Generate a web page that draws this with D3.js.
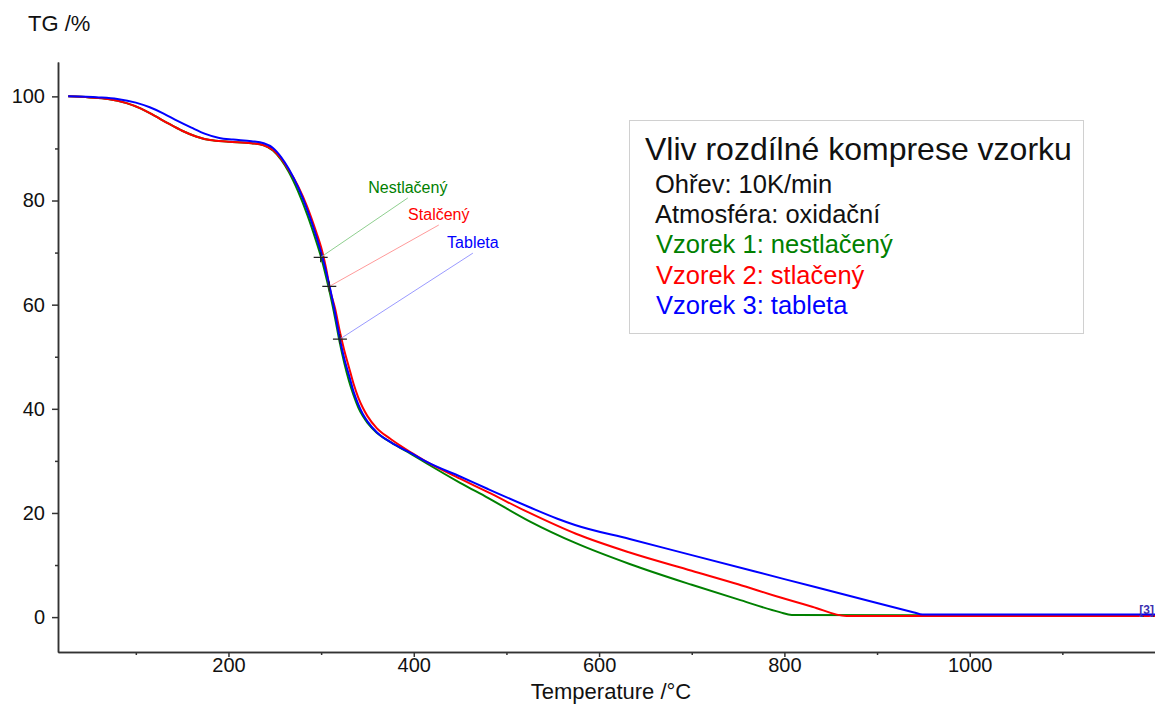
<!DOCTYPE html>
<html>
<head>
<meta charset="utf-8">
<script src="https://cdn.jsdelivr.net/npm/d3@7"></script>
<style>
    body { margin: 0; background: #fff; }
    svg { font-family: Arial, "Liberation Sans", sans-serif; }
    .axis path, .axis line { stroke: #333; stroke-width: 1.5; }
    .axis text { font-size: 20px; fill: #111; }
    .curve { fill: none; stroke-width: 2; }
</style>
</head>
<body>
<script>
//series values (temperature in deg C, mass in %)
var nestlacenyTemp = [27, 50, 70, 90, 105, 120, 135, 150, 165, 180, 200, 225, 238, 248, 257, 265, 275, 285, 295, 300, 305, 310, 315, 320, 325, 330, 335, 340, 345, 350, 360, 375, 400, 414, 450, 480, 525, 575, 633, 700, 750, 795, 808, 1200];
var nestlacenyMass = [100, 99.8, 99.5, 98.7, 97.7, 96.3, 94.8, 93.4, 92.3, 91.6, 91.3, 91.0, 90.6, 89.6, 87.8, 85.5, 81.8, 77.3, 72.0, 69.1, 65.6, 61.8, 57.5, 52.8, 48.8, 45.4, 42.6, 40.3, 38.6, 37.3, 35.4, 33.6, 31.0, 29.5, 25.8, 22.9, 18.4, 14.2, 10.2, 6.2, 3.4, 0.96, 0.4, 0.3];

var stlacenyTemp = [27, 50, 70, 90, 105, 120, 135, 150, 165, 180, 200, 225, 238, 248, 257, 265, 275, 285, 295, 300, 305, 310, 315, 320, 325, 330, 335, 340, 345, 350, 360, 375, 400, 414, 450, 480, 525, 575, 633, 700, 750, 795, 830, 867, 1200];
var stlacenyMass = [100, 99.8, 99.5, 98.7, 97.7, 96.3, 94.8, 93.4, 92.3, 91.6, 91.3, 91.0, 90.6, 89.7, 88.0, 85.9, 82.8, 78.8, 73.8, 71.0, 67.3, 62.6, 59.3, 55.0, 51.2, 48.0, 44.8, 42.2, 40.2, 38.6, 36.3, 34.2, 31.3, 29.8, 26.6, 24.0, 20.0, 16.0, 12.4, 8.9, 6.3, 3.8, 2.0, 0.2, 0.2];

var tabletaTemp = [27, 60, 80, 100, 115, 130, 145, 160, 175, 190, 205, 225, 238, 248, 257, 265, 275, 285, 295, 300, 305, 310, 315, 320, 325, 330, 335, 340, 345, 350, 360, 375, 400, 414, 450, 480, 525, 555, 574, 633, 700, 800, 900, 940, 949, 1200];
var tabletaMass = [100, 99.8, 99.5, 98.8, 97.9, 96.7, 95.3, 94.0, 92.8, 92.0, 91.7, 91.4, 91.0, 90.1, 88.3, 86.1, 82.6, 78.2, 73.0, 70.0, 66.6, 62.8, 58.4, 53.6, 49.6, 46.5, 43.3, 40.9, 39.0, 37.6, 35.5, 33.6, 31.2, 29.8, 27.0, 24.6, 21.1, 18.9, 17.7, 15.0, 11.9, 7.3, 2.7, 0.9, 0.5, 0.5];

//series names, colours, marker points and label anchors
var seriesNames = ["Nestlačený", "Stalčený", "Tableta"];
var seriesColors = ["#008000", "#ff0000", "#0000ff"];
var leaderColors = ["#8fcf8f", "#ff9a9a", "#9a9aff"];
var markerTemp = [299.5, 308.8, 320.3];
var markerMass = [69.1, 63.5, 53.4];
var labelTemp = [393.6, 427, 463.8];
var labelMass = [80.5, 75.3, 69.9];

//tick values
var xMajorTicks = [200, 400, 600, 800, 1000];
var xMinorTicks = [100, 300, 500, 700, 900, 1100];
var yMajorTicks = [0, 20, 40, 60, 80, 100];
var yMinorTicks = [10, 30, 50, 70, 90];

//legend text
var legendTitle = "Vliv rozdílné komprese vzorku";
var legendLines = ["Ohřev: 10K/min", "Atmosféra: oxidační", "Vzorek 1: nestlačený", "Vzorek 2: stlačený", "Vzorek 3: tableta"];
var legendColors = ["#111", "#111", "#008000", "#ff0000", "#0000ff"];

(function(){

    window.onload = drawChart();

    function drawChart(){
        var width = 1155,
            height = 706,
            left = 58,
            right = 1155,
            top = 62,
            bottom = 652;

        var svg = d3.select("body")
            .append("svg")
            .attr("width", width)
            .attr("height", height);

        //scales
        var x = d3.scaleLinear()
            .domain([16, 1200])
            .range([left, right]);

        var y = d3.scaleLinear()
            .domain([-6.7, 106.6])
            .range([bottom, top]);

        //axes - minor ticks first, then labelled ones
        svg.append("g")
            .attr("class", "axis")
            .attr("transform", "translate(0," + bottom + ")")
            .call(d3.axisBottom(x).tickValues(xMinorTicks).tickSize(3).tickSizeOuter(0).tickFormat(""));
        svg.append("g")
            .attr("class", "axis")
            .attr("transform", "translate(0," + bottom + ")")
            .call(d3.axisBottom(x).tickValues(xMajorTicks).tickSize(5).tickPadding(1).tickSizeOuter(0).tickFormat(d3.format("d")));

        svg.append("g")
            .attr("class", "axis")
            .attr("transform", "translate(" + left + ",0)")
            .call(d3.axisLeft(y).tickValues(yMinorTicks).tickSize(3).tickSizeOuter(0).tickFormat(""));
        svg.append("g")
            .attr("class", "axis")
            .attr("transform", "translate(" + left + ",0)")
            .call(d3.axisLeft(y).tickValues(yMajorTicks).tickSize(6).tickPadding(7).tickSizeOuter(0));

        //axis titles
        svg.append("text")
            .attr("x", 28)
            .attr("y", 31)
            .style("font-size", "22px")
            .attr("fill", "#111")
            .text("TG /%");

        svg.append("text")
            .attr("x", 611)
            .attr("y", 699)
            .attr("text-anchor", "middle")
            .style("font-size", "22px")
            .attr("fill", "#111")
            .text("Temperature /°C");

        //curves
        var line = d3.line()
            .x(function(d){ return x(d[0]); })
            .y(function(d){ return y(d[1]); })
            .curve(d3.curveMonotoneX);

        var temps = [nestlacenyTemp, stlacenyTemp, tabletaTemp];
        var masses = [nestlacenyMass, stlacenyMass, tabletaMass];

        for (var i=0; i<3; i++){
            var pts = d3.zip(temps[i], masses[i]);
            svg.append("path")
                .datum(pts)
                .attr("class", "curve")
                .attr("stroke", seriesColors[i])
                .attr("d", line);
        };

        //leader lines, markers and labels
        for (var j=0; j<3; j++){
            var mx = x(markerTemp[j]), my = y(markerMass[j]),
                lx = x(labelTemp[j]), ly = y(labelMass[j]);

            svg.append("line")
                .attr("x1", mx).attr("y1", my)
                .attr("x2", lx).attr("y2", ly)
                .attr("stroke", leaderColors[j])
                .attr("stroke-width", 1);

            svg.append("path")
                .attr("d", "M" + (mx - 7) + "," + my + "H" + (mx + 7) + "M" + mx + "," + (my - 5) + "V" + (my + 5))
                .attr("stroke", "#222")
                .attr("stroke-width", 1.2);

            svg.append("text")
                .attr("x", lx)
                .attr("y", ly - 5)
                .attr("text-anchor", "middle")
                .style("font-size", "16px")
                .attr("fill", seriesColors[j])
                .text(seriesNames[j]);
        };

        //curve number tag at the right end
        svg.append("text")
            .attr("x", 1154)
            .attr("y", y(tabletaMass[tabletaMass.length - 1]) - 1)
            .attr("text-anchor", "end")
            .style("font-size", "12px")
            .style("font-weight", "bold")
            .attr("fill", "#3a30b0")
            .text("[3]");

        //legend box
        svg.append("rect")
            .attr("x", 629.5)
            .attr("y", 120.5)
            .attr("width", 454)
            .attr("height", 213)
            .attr("fill", "#fff")
            .attr("stroke", "#d0d0d0")
            .attr("stroke-width", 1);

        svg.append("text")
            .attr("x", 645)
            .attr("y", 160)
            .style("font-size", "32px")
            .attr("fill", "#111")
            .text(legendTitle);

        legendLines.forEach(function(t, k){
            svg.append("text")
                .attr("x", k < 2 ? 655 : 656)
                .attr("y", 193 + k * 30.2)
                .style("font-size", "25.5px")
                .attr("fill", legendColors[k])
                .text(t);
        });
    };
})();
</script>
</body>
</html>
